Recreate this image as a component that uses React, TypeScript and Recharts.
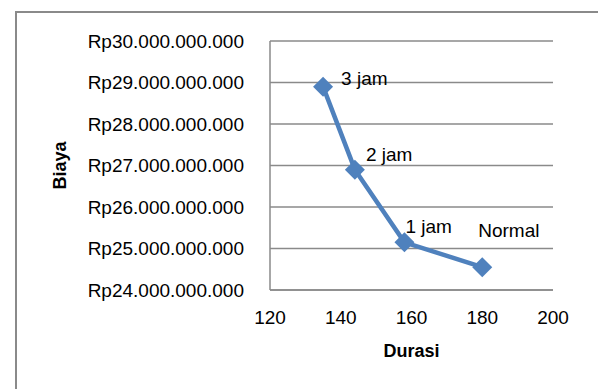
import React from 'react';
import { ScatterChart, Scatter, XAxis, YAxis, CartesianGrid, Label } from 'recharts';

const durasi = [135, 144, 158, 180];
const biaya = [28900000000, 26900000000, 25150000000, 24550000000];
const pointLabels = ['3 jam', '2 jam', '1 jam', 'Normal'];
const xTicks = [120, 140, 160, 180, 200];
const yTicks = [24000000000, 25000000000, 26000000000, 27000000000, 28000000000, 29000000000, 30000000000];

// label placement relative to each marker (dx, dy), same order as pointLabels
const labelOffsets = [[18, -8], [11, -15], [1, -16], [-4, -37]];

const data = durasi.map((d, i) => ({ x: d, y: biaya[i], name: pointLabels[i] }));

const FONT = 'Liberation Sans';
const GRID = '#8a8a8a';
const BLUE = '#4F81BD';

const formatRp = (v: number) => 'Rp' + String(v).replace(/\B(?=(\d{3})+(?!\d))/g, '.');

const DiamondWithLabel = (props: any) => {
  const { cx, cy, payload } = props;
  const idx = pointLabels.indexOf(payload.name);
  const [dx, dy] = labelOffsets[idx] || [10, -10];
  const r = 10;
  return (
    <g>
      <polygon
        points={`${cx},${cy - r} ${cx + r},${cy} ${cx},${cy + r} ${cx - r},${cy}`}
        fill={BLUE}
      />
      <text
        x={cx + dx}
        y={cy + dy}
        dominantBaseline="central"
        fontFamily={FONT}
        fontSize={19}
        fill="#000"
      >
        {payload.name}
      </text>
    </g>
  );
};

const App: React.FC = () => {
  return (
    <div style={{ position: 'absolute', left: 0, top: 0, width: 598, height: 389, background: '#fff', overflow: 'hidden' }}>
      <div
        style={{
          position: 'absolute',
          left: 15,
          top: 11,
          right: -20,
          bottom: -20,
          borderTop: `2px solid ${GRID}`,
          borderLeft: `2px solid ${GRID}`,
        }}
      />
      <div style={{ position: 'absolute', left: 0, top: 0 }}>
        <ScatterChart width={598} height={389} margin={{ top: 41, right: 45, left: 70, bottom: 59 }}>
          <CartesianGrid vertical={false} stroke={GRID} strokeWidth={1.5} />
          <XAxis
            type="number"
            dataKey="x"
            domain={[120, 200]}
            ticks={xTicks}
            height={40}
            tickSize={0}
            tickMargin={21}
            axisLine={{ stroke: GRID, strokeWidth: 1.5 }}
            tick={{ fontSize: 19, fill: '#000', fontFamily: FONT }}
          >
            <Label
              value="Durasi"
              position="bottom"
              offset={14}
              style={{ fontSize: 18, fontWeight: 'bold', fill: '#000', fontFamily: FONT }}
            />
          </XAxis>
          <YAxis
            type="number"
            dataKey="y"
            domain={[24000000000, 30000000000]}
            ticks={yTicks}
            width={200}
            tickSize={0}
            tickMargin={26}
            tickFormatter={formatRp}
            axisLine={{ stroke: GRID, strokeWidth: 1.5 }}
            tick={{ fontSize: 19, fill: '#000', fontFamily: FONT }}
          >
            <Label
              content={({ viewBox }: any) => (
                <text
                  x={viewBox.x - 10}
                  y={viewBox.y + viewBox.height / 2}
                  transform={`rotate(-90, ${viewBox.x - 10}, ${viewBox.y + viewBox.height / 2})`}
                  textAnchor="middle"
                  dominantBaseline="central"
                  fontFamily={FONT}
                  fontSize={18}
                  fontWeight="bold"
                  fill="#000"
                >
                  Biaya
                </text>
              )}
            />
          </YAxis>
          <Scatter
            data={data}
            line={{ stroke: BLUE, strokeWidth: 4.5 }}
            lineType="joint"
            shape={DiamondWithLabel}
            isAnimationActive={false}
          />
        </ScatterChart>
      </div>
    </div>
  );
};

export default App;
